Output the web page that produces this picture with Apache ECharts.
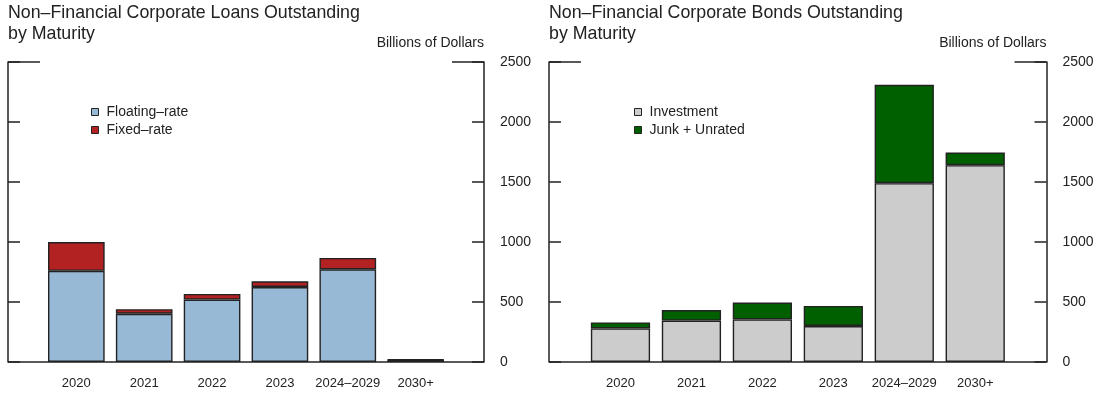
<!DOCTYPE html>
<html>
<head>
    <meta charset="UTF-8">
    <title>Non-Financial Corporate Debt by Maturity</title>
    <script src="https://cdn.jsdelivr.net/npm/echarts@6/dist/echarts.min.js"></script>
    <style>
        body { margin: 0; background: #fff; }
        #chart { width: 1100px; height: 398px; }
    </style>
</head>
<body>
    <div id="chart"></div>
    <script>
        // data (billions of dollars)
        const categories = ['2020', '2021', '2022', '2023', '2024–2029', '2030+'];
        const floatingRate = [760, 402, 520, 625, 772, 18];
        const fixedRate = [240, 38, 47, 47, 95, 4];
        const investment = [280, 345, 355, 300, 1490, 1640];
        const junkUnrated = [50, 88, 140, 167, 820, 105];
        const yMax = 2500;
        const yStep = 500;

        // frame and category band of each panel, in pixels
        const plotTop = 62, plotBottom = 362;
        const panels = [
            { frameLeft: 8, frameRight: 484, catLeft: 42.4, catRight: 449.6 },
            { frameLeft: 549, frameRight: 1046.5, catLeft: 585, catRight: 1010.7 }
        ];
        const W = 1100;
        const ink = '#222';
        const font = 'Liberation Sans, Arial, Helvetica, sans-serif';

        const grids = panels.map(p => ({
            left: p.catLeft, width: p.catRight - p.catLeft,
            top: plotTop, height: plotBottom - plotTop
        }));

        const xAxes = panels.map((p, i) => ({
            type: 'category', gridIndex: i, data: categories,
            axisLine: { show: false }, axisTick: { show: false },
            axisLabel: { color: ink, fontSize: 13, fontFamily: font, margin: 15, interval: 0 }
        }));

        const yAxes = [];
        panels.forEach((p, i) => {
            const base = {
                type: 'value', gridIndex: i, min: 0, max: yMax, interval: yStep,
                splitLine: { show: false },
                axisLine: { show: true, lineStyle: { color: ink, width: 1.5 } },
                axisTick: { show: true, inside: true, length: 12, lineStyle: { color: ink, width: 1.5 } }
            };
            yAxes.push(Object.assign({}, base, {
                position: 'left', offset: p.catLeft - p.frameLeft,
                axisLabel: { show: false }
            }));
            yAxes.push(Object.assign({}, base, {
                position: 'right', offset: p.frameRight - p.catRight,
                axisLabel: {
                    show: true, color: ink, fontSize: 14, fontFamily: font, margin: 16,
                    formatter: v => String(v)
                }
            }));
        });

        function barSeries(name, data, color, panel) {
            return {
                name: name, type: 'bar', stack: 'p' + panel, data: data,
                xAxisIndex: panel, yAxisIndex: panel * 2,
                barCategoryGap: '16.5%',
                itemStyle: { color: color, borderColor: ink, borderWidth: 1.4 },
                emphasis: { disabled: true }
            };
        }

        const series = [
            barSeries('Floating–rate', floatingRate, '#97b9d6', 0),
            barSeries('Fixed–rate', fixedRate, '#b22222', 0),
            barSeries('Investment', investment, '#cccccc', 1),
            barSeries('Junk + Unrated', junkUnrated, '#006000', 1)
        ];

        function legend(names, left) {
            return {
                data: names, orient: 'vertical', left: left, top: 100,
                icon: 'rect', itemWidth: 7, itemHeight: 7, itemGap: 4,
                itemStyle: { borderColor: ink, borderWidth: 1 },
                textStyle: { color: ink, fontSize: 14, fontFamily: font, padding: [0, 0, 0, 3] },
                selectedMode: false
            };
        }

        // frame pieces not covered by the axes: full bottom line and short top stubs
        const graphic = [];
        panels.forEach(p => {
            const lineStyle = { stroke: ink, lineWidth: 1.5 };
            graphic.push({ type: 'line', shape: { x1: p.frameLeft, y1: plotBottom, x2: p.frameRight, y2: plotBottom }, style: lineStyle, z: 10 });
            graphic.push({ type: 'line', shape: { x1: p.frameLeft, y1: plotTop, x2: p.frameLeft + 32, y2: plotTop }, style: lineStyle, z: 10 });
            graphic.push({ type: 'line', shape: { x1: p.frameRight - 32, y1: plotTop, x2: p.frameRight, y2: plotTop }, style: lineStyle, z: 10 });
        });

        const titleStyle = { color: ink, fontSize: 17.8, fontWeight: 'normal', fontFamily: font, lineHeight: 21 };
        const unitStyle = { color: ink, fontSize: 14, fontWeight: 'normal', fontFamily: font };

        const chart = echarts.init(document.getElementById('chart'));
        chart.setOption({
            animation: false,
            title: [
                { text: 'Non–Financial Corporate Loans Outstanding\nby Maturity', left: 8, top: 3, padding: 0, textStyle: titleStyle },
                { text: 'Non–Financial Corporate Bonds Outstanding\nby Maturity', left: 549, top: 3, padding: 0, textStyle: titleStyle },
                { text: 'Billions of Dollars', right: W - panels[0].frameRight, top: 36, padding: 0, textStyle: unitStyle },
                { text: 'Billions of Dollars', right: W - panels[1].frameRight, top: 36, padding: 0, textStyle: unitStyle }
            ],
            legend: [
                legend(['Floating–rate', 'Fixed–rate'], 86),
                legend(['Investment', 'Junk + Unrated'], 629)
            ],
            grid: grids,
            xAxis: xAxes,
            yAxis: yAxes,
            series: series,
            graphic: graphic
        });
    </script>
</body>
</html>
